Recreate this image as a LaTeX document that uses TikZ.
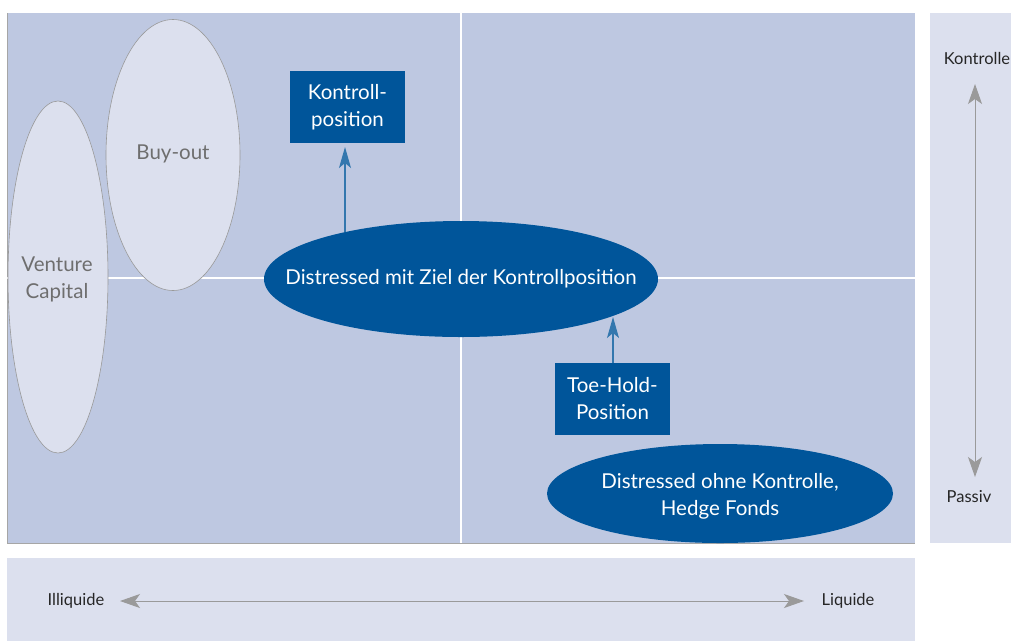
\documentclass[tikz,border=0pt]{standalone}
\usepackage{fontspec}
\setmainfont{Lato}
\usetikzlibrary{shapes.geometric,arrows.meta}
\definecolor{panel}{HTML}{BEC8E1}
\definecolor{light}{HTML}{DCE0EE}
\definecolor{dblue}{HTML}{00559A}
\definecolor{gtext}{HTML}{6E6E6E}
\definecolor{garrow}{HTML}{9A9A9A}
\tikzset{
  lightell/.style={ellipse,draw=gray!80,fill=light,line width=0.6pt,inner sep=0pt},
  darkell/.style={ellipse,fill=dblue,inner sep=0pt},
  ltext/.style={text=gtext,font=\fontsize{20.5}{27}\selectfont,align=center,inner sep=0pt},
  dtext/.style={text=white,font=\fontsize{20.5}{27}\selectfont,align=center,inner sep=0pt},
  darkbox/.style={rectangle,fill=dblue,inner sep=0pt,text=white,font=\fontsize{20.5}{27}\selectfont,align=center},
  blarrow/.style={draw=dblue!80!white,line width=1.2pt,-{Stealth[length=21pt,width=12pt,inset=5pt]}},
  grarrow/.style={draw=garrow,line width=1pt,{Stealth[length=20pt,width=14pt,inset=5pt]}-{Stealth[length=20pt,width=14pt,inset=5pt]}},
  axlabel/.style={text=black!85,font=\fontsize{16.5}{18}\selectfont,inner sep=0pt}
}
\begin{document}
\begin{tikzpicture}[x=1pt,y=-1pt]
\useasboundingbox (0,0) rectangle (1011,641);
\fill[white] (0,0) rectangle (1011,641);
% main panel
\fill[panel] (7,13) rectangle (915,543);
\draw[gray!70,line width=1pt] (7,13) -- (7,543) -- (915,543);
\draw[white,line width=1.2pt] (461,13) -- (461,543);
\draw[white,line width=1.2pt] (7,278) -- (915,278);
% right panel
\fill[light] (930,13) rectangle (1011,543);
% bottom panel
\fill[light] (7,558) rectangle (915,641);
% light ellipses
\node[lightell,minimum width=100pt,minimum height=352pt] (vc) at (58,277) {};
\node[ltext] (vct) at (57,279) {Venture\\Capital};
\node[lightell,minimum width=134pt,minimum height=271pt] (bo) at (173,155) {};
\node[ltext] (bot) at (173,154) {Buy-out};
% dark shapes
\node[darkell,minimum width=394pt,minimum height=116pt] (dz) at (461,279) {};
\node[dtext] (dzt) at (461,279) {Distressed mit Ziel der Kontrollposition};
\node[darkbox,minimum width=115pt,minimum height=72pt] (kp) at (347.5,107) {Kontroll-\\position};
\node[darkbox,minimum width=115pt,minimum height=72pt] (th) at (612.5,399) {Toe-Hold-\\Position};
\node[darkell,minimum width=346pt,minimum height=99pt] (do) at (720,493.5) {};
\node[dtext] (dot) at (720,496) {Distressed ohne Kontrolle,\\Hedge Fonds};
% arrows
\coordinate (a1s) at (345,232);
\coordinate (a1e) at (345,147);
\draw[blarrow] (a1s) -- (a1e);
\coordinate (a2e) at (613,317);
\draw[blarrow] (th.north -| a2e) -- (a2e);
% right axis
\node[axlabel,anchor=center] (ko) at (977,58) {Kontrolle};
\node[axlabel] (pa) at (969,497) {Passiv};
\coordinate (ka) at (975,84);
\coordinate (pe) at (975,477);
\draw[grarrow] (ka) -- (pe);
% bottom axis
\node[axlabel] (il) at (76,601) {Illiquide};
\node[axlabel] (li) at (848,601) {Liquide};
\coordinate (ia) at (120,601);
\coordinate (la) at (804,601);
\draw[grarrow] (ia) -- (la);
\end{tikzpicture}
\end{document}
